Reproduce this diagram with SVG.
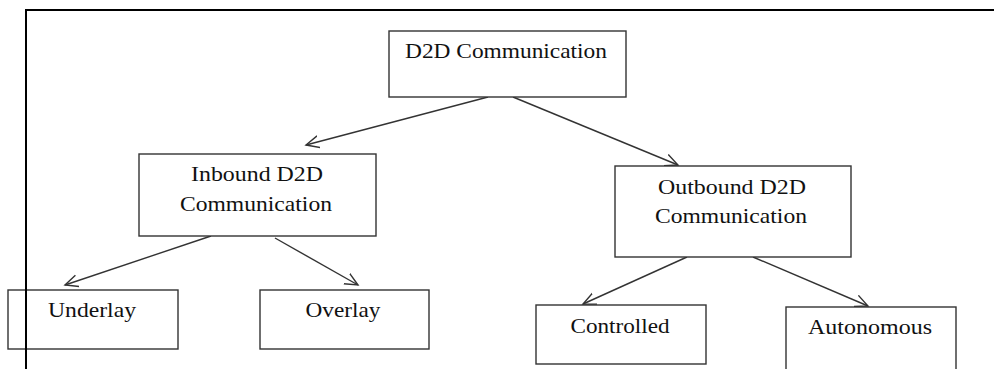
<svg xmlns="http://www.w3.org/2000/svg" width="994" height="369" viewBox="0 0 994 369">
<style>
.box{fill:#fff;stroke:#333;stroke-width:1.4}
.lbl{font-family:'Liberation Serif','DejaVu Serif','Times New Roman',serif;font-size:21px;fill:#111;text-anchor:middle}
.conn{stroke:#333;stroke-width:1.4;fill:none}
</style>
<defs>
<marker id="arr" markerUnits="userSpaceOnUse" markerWidth="16" markerHeight="14" refX="13" refY="6" orient="auto" viewBox="0 0 16 12">
<path d="M0,0 L13,6 L0,12" fill="none" stroke="#333" stroke-width="1.4"/>
</marker>
</defs>
<rect width="994" height="369" fill="#fff"/>
<path d="M26,369 L26,10 L994,10" fill="none" stroke="#000" stroke-width="2"/>
<g id="connectors">
<line class="conn" x1="488" y1="97" x2="306" y2="145" marker-end="url(#arr)"/>
<line class="conn" x1="513" y1="97" x2="678" y2="165" marker-end="url(#arr)"/>
<line class="conn" x1="211" y1="236" x2="65" y2="285" marker-end="url(#arr)"/>
<line class="conn" x1="275" y1="238" x2="358" y2="285" marker-end="url(#arr)"/>
<line class="conn" x1="687" y1="257" x2="583" y2="304" marker-end="url(#arr)"/>
<line class="conn" x1="753" y1="257" x2="868" y2="306" marker-end="url(#arr)"/>
</g>
<g id="d2d">
<rect class="box" x="389" y="31" width="237" height="66"/>
<text class="lbl" x="506" y="58" textLength="202" lengthAdjust="spacingAndGlyphs">D2D Communication</text>
</g>
<g id="inbound">
<rect class="box" x="139" y="154" width="237" height="82"/>
<text class="lbl" x="257" y="181" textLength="132" lengthAdjust="spacingAndGlyphs">Inbound D2D</text>
<text class="lbl" x="256" y="211" textLength="152" lengthAdjust="spacingAndGlyphs">Communication</text>
</g>
<g id="outbound">
<rect class="box" x="615" y="166" width="236" height="91"/>
<text class="lbl" x="732" y="194" textLength="148" lengthAdjust="spacingAndGlyphs">Outbound D2D</text>
<text class="lbl" x="731" y="223" textLength="152" lengthAdjust="spacingAndGlyphs">Communication</text>
</g>
<g id="underlay">
<rect class="box" x="8" y="290" width="170" height="59"/>
<text class="lbl" x="92" y="317" textLength="88" lengthAdjust="spacingAndGlyphs">Underlay</text>
</g>
<path d="M26,285 L26,369" stroke="#000" stroke-width="2"/>
<g id="overlay">
<rect class="box" x="260" y="290" width="169" height="59"/>
<text class="lbl" x="343" y="317" textLength="75" lengthAdjust="spacingAndGlyphs">Overlay</text>
</g>
<g id="controlled">
<rect class="box" x="536" y="305" width="170" height="59"/>
<text class="lbl" x="620" y="333" textLength="99" lengthAdjust="spacingAndGlyphs">Controlled</text>
</g>
<g id="autonomous">
<rect class="box" x="786" y="307" width="170" height="70"/>
<text class="lbl" x="870" y="334" textLength="124" lengthAdjust="spacingAndGlyphs">Autonomous</text>
</g>
</svg>
